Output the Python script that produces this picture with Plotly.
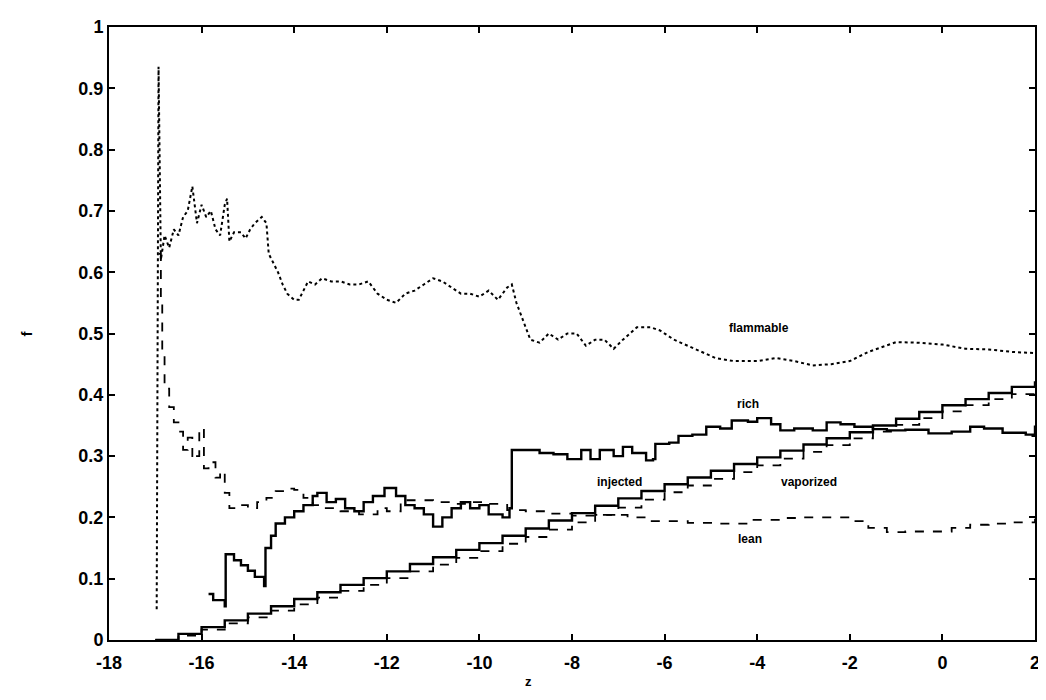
import plotly.graph_objects as go

# ---------------- data ----------------
inj_x = [-17, -16.5, -16, -15.5, -15, -14.5, -14, -13.5, -13, -12.5, -12, -11.5, -11, -10.5,
         -10, -9.5, -9, -8.5, -8, -7.5, -7, -6.5, -6, -5.5, -5, -4.5, -4, -3.5, -3, -2.5,
         -2, -1.5, -1, -0.5, 0, 0.5, 1, 1.5, 2]
inj_y = [0.0, 0.010, 0.021, 0.032, 0.043, 0.055, 0.067, 0.078, 0.090, 0.101, 0.112, 0.124,
         0.135, 0.147, 0.158, 0.170, 0.182, 0.195, 0.207, 0.219, 0.231, 0.243, 0.254, 0.265,
         0.276, 0.287, 0.298, 0.309, 0.319, 0.329, 0.339, 0.350, 0.361, 0.372, 0.383, 0.393,
         0.403, 0.413, 0.422]

vap_x = inj_x
vap_y = [0.0, 0.007, 0.017, 0.027, 0.037, 0.048, 0.058, 0.069, 0.080, 0.090, 0.101, 0.112,
         0.123, 0.134, 0.145, 0.157, 0.168, 0.180, 0.192, 0.204, 0.216, 0.229, 0.241, 0.252,
         0.263, 0.274, 0.285, 0.296, 0.307, 0.318, 0.329, 0.340, 0.351, 0.362, 0.373, 0.383,
         0.393, 0.401, 0.409]

rich_x = [-15.85, -15.75, -15.5, -15.48, -15.3, -15.15, -15.0, -14.85, -14.65, -14.62, -14.5,
          -14.4, -14.2, -14.0, -13.8, -13.6, -13.5, -13.3, -13.1, -12.9, -12.7, -12.5, -12.3,
          -12.05, -11.8, -11.6, -11.4, -11.2, -11.0, -10.8, -10.6, -10.4, -10.2, -10.0, -9.8,
          -9.5, -9.35, -9.3, -9.0, -8.7, -8.4, -8.1, -7.8, -7.6, -7.4, -7.1, -6.9, -6.7, -6.4,
          -6.25, -6.2, -5.9, -5.7, -5.4, -5.1, -4.8, -4.55, -4.2, -4.0, -3.7, -3.5, -3.2, -2.8,
          -2.5, -2.2, -1.9, -1.5, -1.2, -0.8, -0.3, 0.2, 0.6, 0.9, 1.3, 1.8, 1.95, 2.0]
rich_y = [0.075, 0.065, 0.055, 0.14, 0.13, 0.122, 0.113, 0.103, 0.088, 0.15, 0.17,
          0.19, 0.20, 0.21, 0.22, 0.235, 0.24, 0.225, 0.23, 0.215, 0.21, 0.225, 0.235,
          0.248, 0.235, 0.22, 0.215, 0.205, 0.185, 0.20, 0.215, 0.225, 0.215, 0.22, 0.205,
          0.20, 0.215, 0.31, 0.31, 0.305, 0.303, 0.295, 0.31, 0.295, 0.31, 0.30, 0.315, 0.305, 0.293,
          0.295, 0.32, 0.322, 0.333, 0.335, 0.348, 0.345, 0.358, 0.356, 0.362, 0.352, 0.342, 0.345, 0.342,
          0.355, 0.352, 0.348, 0.344, 0.342, 0.343, 0.337, 0.34, 0.348, 0.345, 0.338, 0.335, 0.333, 0.35]

lean_x = [-16.92, -16.88, -16.85, -16.8, -16.7, -16.6, -16.5, -16.4, -16.3, -16.2, -16.1,
          -16.05, -15.95, -15.85, -15.7, -15.6, -15.5, -15.4, -15.2, -15.0, -14.8, -14.6,
          -14.4, -14.2, -14.0, -13.8, -13.6, -13.4, -13.0, -12.6, -12.2, -12.0, -11.7, -11.3,
          -11.0, -10.6, -10.2, -9.8, -9.4, -9.0, -8.5, -8.0, -7.35, -6.8, -6.3, -5.5, -4.8,
          -4.2, -3.5, -3.0, -2.5, -2.0, -1.6, -1.2, -0.8, -0.3, 0.2, 0.6, 1.0, 1.5, 2.0]
lean_y = [0.63, 0.55, 0.47, 0.41, 0.38, 0.355, 0.34, 0.31, 0.33, 0.295, 0.30,
          0.345, 0.28, 0.29, 0.265, 0.275, 0.24, 0.215, 0.22, 0.215, 0.225, 0.232,
          0.243, 0.247, 0.245, 0.232, 0.22, 0.215, 0.21, 0.205, 0.215, 0.21, 0.228, 0.228,
          0.225, 0.222, 0.225, 0.222, 0.212, 0.21, 0.206, 0.203, 0.204, 0.20, 0.194, 0.191, 0.19,
          0.196, 0.199, 0.20, 0.20, 0.194, 0.183, 0.176, 0.177, 0.177, 0.183, 0.188, 0.19, 0.192, 0.198]

flam_x = [-16.97, -16.93, -16.88, -16.8, -16.7, -16.6, -16.5, -16.4, -16.3, -16.2, -16.1,
          -16.0, -15.9, -15.8, -15.7, -15.6, -15.5, -15.45, -15.4, -15.3, -15.15, -15.05,
          -14.95, -14.85, -14.7, -14.6, -14.55, -14.45, -14.35, -14.25, -14.15, -14.0, -13.9,
          -13.8, -13.7, -13.55, -13.4, -13.2, -13.0, -12.8, -12.6, -12.4, -12.2, -12.0, -11.8,
          -11.6, -11.4, -11.2, -11.0, -10.8, -10.6, -10.4, -10.2, -10.0, -9.8, -9.6, -9.4,
          -9.3, -9.2, -9.1, -9.0, -8.9, -8.7, -8.5, -8.3, -8.1, -7.9, -7.7, -7.5, -7.3, -7.1,
          -6.9, -6.6, -6.3, -6.1, -5.8, -5.5, -5.2, -4.9, -4.5, -4.0, -3.6, -3.2, -2.8, -2.4,
          -2.0, -1.6, -1.3, -1.0, -0.5, 0.0, 0.5, 1.0, 1.5, 2.0]
flam_y = [0.05, 0.935, 0.62, 0.66, 0.64, 0.67, 0.66, 0.69, 0.70, 0.74, 0.68,
          0.71, 0.69, 0.70, 0.67, 0.66, 0.71, 0.72, 0.65, 0.665, 0.665, 0.655,
          0.67, 0.68, 0.69, 0.68, 0.63, 0.615, 0.60, 0.58, 0.565, 0.555, 0.555,
          0.57, 0.585, 0.58, 0.59, 0.585, 0.585, 0.58, 0.58, 0.585, 0.565, 0.555, 0.55,
          0.565, 0.57, 0.58, 0.59, 0.585, 0.575, 0.565, 0.565, 0.56, 0.57, 0.555, 0.575,
          0.58, 0.55, 0.53, 0.51, 0.49, 0.485, 0.50, 0.49, 0.50, 0.50, 0.48, 0.49, 0.49, 0.475,
          0.49, 0.51, 0.51, 0.505, 0.49, 0.48, 0.47, 0.46, 0.455, 0.455, 0.46, 0.455, 0.448, 0.45,
          0.455, 0.47, 0.478, 0.486, 0.485, 0.482, 0.475, 0.474, 0.47, 0.468]

x_ticks = [-18, -16, -14, -12, -10, -8, -6, -4, -2, 0, 2]
y_ticks = [0, 0.1, 0.2, 0.3, 0.4, 0.5, 0.6, 0.7, 0.8, 0.9, 1]
y_tick_text = ["0", "0.1", "0.2", "0.3", "0.4", "0.5", "0.6", "0.7", "0.8", "0.9", "1"]

labels = ["flammable", "rich", "injected", "vaporized", "lean"]
label_x = [-3.96, -4.2, -6.98, -2.88, -4.16]
label_y = [0.509, 0.385, 0.257, 0.257, 0.164]

x_title = "z"
y_title = "f"

# ---------------- figure ----------------
fig = go.Figure()
fig.add_trace(go.Scatter(x=inj_x, y=inj_y, mode="lines", line=dict(color="black", width=2.4, shape="hv"),
                         name="injected"))
fig.add_trace(go.Scatter(x=vap_x, y=vap_y, mode="lines", line=dict(color="black", width=1.8, dash="dash", shape="hv"),
                         name="vaporized"))
fig.add_trace(go.Scatter(x=rich_x, y=rich_y, mode="lines", line=dict(color="black", width=2.4, shape="hv"),
                         name="rich"))
fig.add_trace(go.Scatter(x=lean_x, y=lean_y, mode="lines", line=dict(color="black", width=1.8, dash="dash", shape="hv"),
                         name="lean"))
fig.add_trace(go.Scatter(x=flam_x, y=flam_y, mode="lines", line=dict(color="black", width=2, dash="dot"),
                         name="flammable"))

for t, lx, ly in zip(labels, label_x, label_y):
    fig.add_annotation(x=lx, y=ly, text="<b>" + t + "</b>", showarrow=False,
                       font=dict(family="Liberation Sans", size=12, color="black"))

# axis titles placed as in the reference (x title sits left of centre)
fig.add_annotation(x=-8.93, y=-0.083, xref="x", yref="paper", text="<b>" + x_title + "</b>",
                   showarrow=False, font=dict(family="Liberation Sans", size=13, color="black"))
fig.add_annotation(x=-0.1, y=0.5, xref="paper", yref="paper", text="<b>" + y_title + "</b>",
                   textangle=-90, showarrow=False,
                   font=dict(family="Liberation Sans", size=15, color="black"))

axis_common = dict(showgrid=False, zeroline=False, showline=True, linecolor="black", linewidth=2,
                   mirror="ticks", ticks="inside", ticklen=6, tickcolor="black", tickwidth=1.5,
                   tickfont=dict(family="Liberation Sans", size=18, color="black", weight="bold"))

fig.update_layout(
    width=1046, height=700,
    margin=dict(l=101, r=19, t=9, b=68),
    paper_bgcolor="white", plot_bgcolor="white",
    showlegend=False,
    xaxis=dict(range=[-18, 2], tickvals=x_ticks, ticktext=[str(v) for v in x_ticks],
               ticklabelstandoff=5, **axis_common),
    yaxis=dict(range=[0, 1], tickvals=y_ticks, ticktext=y_tick_text, **axis_common),
)

fig.write_html("out.html")
